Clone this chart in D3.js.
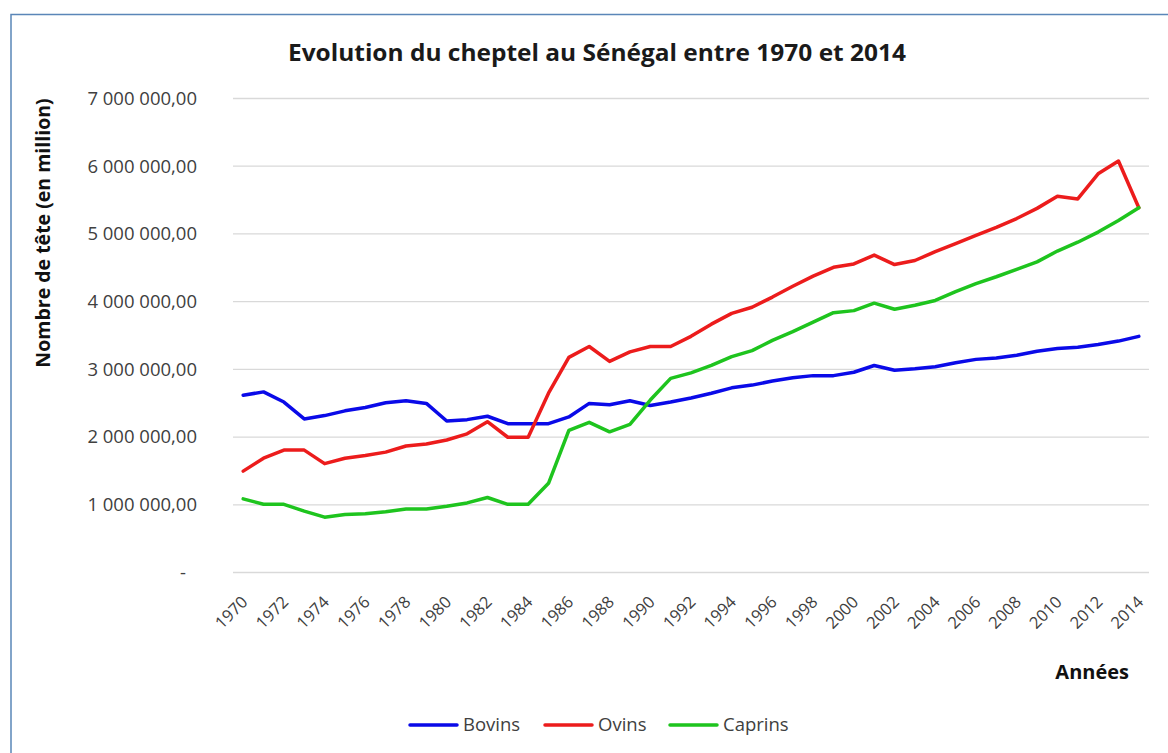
<!DOCTYPE html>
<html lang="fr">
<head>
  <meta charset="UTF-8">
  <title>Evolution du cheptel au Sénégal entre 1970 et 2014</title>
  <style>
    html,
    body {
      margin: 0;
      padding: 0;
      background: #fff;
    }

    svg text {
      font-family: "Open Sans", sans-serif;
    }
  </style>
</head>
<body>
<div id="chart"></div>

<script src="https://d3js.org/d3.v7.min.js"></script>
<script>
  // annees (categories de l'axe x)
  const years = [
    1970, 1971, 1972, 1973, 1974, 1975, 1976, 1977, 1978, 1979,
    1980, 1981, 1982, 1983, 1984, 1985, 1986, 1987, 1988, 1989,
    1990, 1991, 1992, 1993, 1994, 1995, 1996, 1997, 1998, 1999,
    2000, 2001, 2002, 2003, 2004, 2005, 2006, 2007, 2008, 2009,
    2010, 2011, 2012, 2013, 2014
  ];

  // effectifs (tetes)
  const bovins = [
    2610000, 2660000, 2510000, 2260000, 2310000, 2380000, 2430000, 2500000, 2530000, 2490000,
    2230000, 2250000, 2300000, 2190000, 2190000, 2190000, 2290000, 2490000, 2470000, 2530000,
    2460000, 2510000, 2570000, 2640000, 2720000, 2760000, 2820000, 2870000, 2900000, 2900000,
    2950000, 3050000, 2980000, 3000000, 3030000, 3090000, 3140000, 3160000, 3200000, 3260000,
    3300000, 3320000, 3360000, 3410000, 3480000
  ];

  const ovins = [
    1490000, 1680000, 1800000, 1800000, 1600000, 1680000, 1720000, 1770000, 1860000, 1890000,
    1950000, 2040000, 2220000, 1990000, 1990000, 2640000, 3170000, 3330000, 3110000, 3250000,
    3330000, 3330000, 3480000, 3660000, 3820000, 3910000, 4060000, 4220000, 4370000, 4500000,
    4550000, 4680000, 4540000, 4600000, 4730000, 4850000, 4970000, 5090000, 5220000, 5370000,
    5550000, 5510000, 5880000, 6070000, 5380000
  ];

  const caprins = [
    1080000, 1000000, 1000000, 900000, 810000, 850000, 860000, 890000, 930000, 930000,
    970000, 1020000, 1100000, 1000000, 1000000, 1310000, 2090000, 2210000, 2070000, 2180000,
    2540000, 2860000, 2940000, 3050000, 3180000, 3270000, 3420000, 3550000, 3690000, 3830000,
    3860000, 3970000, 3880000, 3940000, 4010000, 4140000, 4260000, 4360000, 4470000, 4580000,
    4740000, 4870000, 5020000, 5190000, 5380000
  ];

  const seriesNames = ['Bovins', 'Ovins', 'Caprins'];
  const seriesColors = ['#0a0ae8', '#ec1c1c', '#1ec41e'];
  const yTicks = [0, 1000000, 2000000, 3000000, 4000000, 5000000, 6000000, 7000000];
  const xTickYears = years.filter((y, i) => i % 2 === 0);

  const width = 1168;
  const height = 753;
  const plot = { left: 233, right: 1149, top: 98, bottom: 572 };

  const series = [bovins, ovins, caprins].map((values, k) => ({
    name: seriesNames[k],
    color: seriesColors[k],
    values: values.map((v, i) => ({ year: years[i], value: v })),
  }));

  const frLocale = d3.formatLocale({ decimal: ',', thousands: '\u00a0', grouping: [3], currency: ['', ''] });
  const fmt = frLocale.format(',.2f');

  const x = d3.scalePoint()
    .domain(years)
    .range([plot.left, plot.right])
    .padding(0.5);

  const y = d3.scaleLinear()
    .domain([0, 7000000])
    .range([plot.bottom, plot.top]);

  const svg = d3.select('#chart').append('svg')
    .attr('width', width)
    .attr('height', height);

  // cadre
  svg.append('rect')
    .attr('x', 11)
    .attr('y', 14.5)
    .attr('width', width + 20)
    .attr('height', height + 20)
    .attr('fill', '#fff')
    .attr('stroke', '#5a86b8')
    .attr('stroke-width', 1.5);

  // titre
  svg.append('text')
    .attr('x', 597)
    .attr('y', 61)
    .attr('text-anchor', 'middle')
    .attr('font-size', 23)
    .attr('font-weight', 700)
    .attr('fill', '#1a1a1a')
    .attr('textLength', 618)
    .attr('lengthAdjust', 'spacingAndGlyphs')
    .text('Evolution du cheptel au Sénégal entre 1970 et 2014');

  // grille + axe y
  const yAxis = svg.append('g')
    .attr('transform', `translate(${plot.left},0)`)
    .call(d3.axisLeft(y)
      .tickValues(yTicks)
      .tickSize(-(plot.right - plot.left))
      .tickPadding(36)
      .tickFormat(d => d === 0 ? '-' : fmt(d)));

  yAxis.select('.domain').remove();
  yAxis.selectAll('.tick line')
    .attr('stroke', '#d9d9d9')
    .attr('stroke-width', 1.3);
  yAxis.selectAll('.tick text')
    .attr('fill', '#404040')
    .attr('font-size', 18.5)
    .attr('font-family', '"Open Sans", sans-serif')
    .attr('dy', '0.34em')
    .attr('dx', d => d === 0 ? -11 : 0);

  // axe x
  const xAxis = svg.append('g')
    .attr('transform', `translate(0,${plot.bottom})`)
    .call(d3.axisBottom(x).tickValues(xTickYears).tickSize(0));

  xAxis.select('.domain').remove();
  xAxis.selectAll('.tick text')
    .attr('fill', '#404040')
    .attr('font-size', 16.5)
    .attr('font-family', '"Open Sans", sans-serif')
    .attr('text-anchor', 'end')
    .attr('y', 0)
    .attr('dy', '0.35em')
    .attr('transform', 'translate(1,27) rotate(-45)');

  // titres des axes
  svg.append('text')
    .attr('transform', 'translate(50,233) rotate(-90)')
    .attr('text-anchor', 'middle')
    .attr('font-size', 19.5)
    .attr('font-weight', 700)
    .attr('fill', '#111')
    .text('Nombre de tête (en million)');

  svg.append('text')
    .attr('x', 1129)
    .attr('y', 679)
    .attr('text-anchor', 'end')
    .attr('font-size', 20)
    .attr('font-weight', 700)
    .attr('fill', '#111')
    .text('Années');

  // courbes
  const line = d3.line()
    .x(d => x(d.year))
    .y(d => y(d.value));

  svg.append('g')
    .selectAll('path')
    .data(series)
    .join('path')
    .attr('fill', 'none')
    .attr('stroke', d => d.color)
    .attr('stroke-width', 3.5)
    .attr('stroke-linejoin', 'round')
    .attr('stroke-linecap', 'round')
    .attr('d', d => line(d.values));

  // legende
  const legendX = [410, 545, 670];
  const legend = svg.append('g')
    .selectAll('g')
    .data(series)
    .join('g')
    .attr('transform', (d, i) => `translate(${legendX[i]},725)`);

  legend.append('line')
    .attr('x1', 0)
    .attr('x2', 47)
    .attr('stroke', d => d.color)
    .attr('stroke-width', 3.5)
    .attr('stroke-linecap', 'round');

  legend.append('text')
    .attr('x', 53)
    .attr('dy', '0.35em')
    .attr('font-size', 18.5)
    .attr('fill', '#404040')
    .text(d => d.name);
</script>
</body>
</html>
